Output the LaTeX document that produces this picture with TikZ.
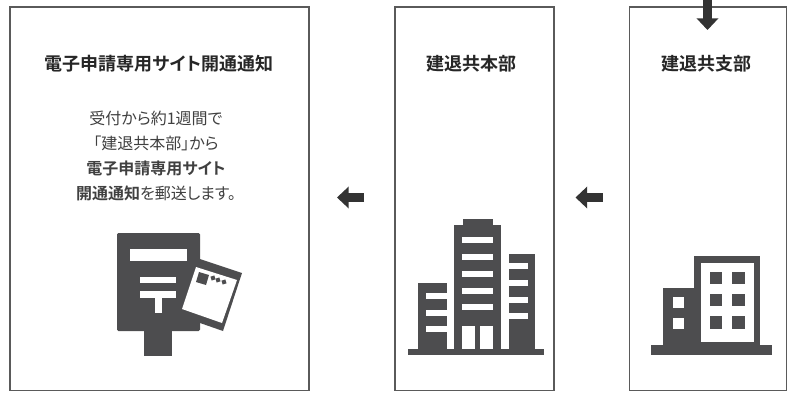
\documentclass[tikz,border=0pt]{standalone}
\usepackage{xcolor}
\usepackage{fontspec}
\setmainfont[RawFeature=+palt,BoldFont={Noto Sans CJK JP Bold}]{Noto Sans CJK JP}
\usetikzlibrary{arrows.meta}
\definecolor{icongray}{HTML}{4D4D4F}
\definecolor{framegray}{HTML}{5A5A5A}
\definecolor{arrowgray}{HTML}{333333}
\tikzset{
    panel/.style={draw=framegray, line width=0.8pt, minimum height=287.3pt, inner sep=0pt},
    heading/.style={font=\bfseries\fontsize{13.5pt}{16pt}\selectfont, text=black!85},
    bodytext/.style={font=\fontsize{12pt}{18.8pt}\selectfont, text=black!75, align=center},
    blockarrow/.style={draw=arrowgray, line width=6.4pt, -{Triangle[width=16pt, length=8.8pt]}},
    icon/.style={fill=icongray},
    hole/.style={fill=white}
}
\begin{document}
\begin{tikzpicture}[x=0.75pt, y=-0.75pt]
    \useasboundingbox (0,0) rectangle (791,396);
    % panels
    \node[panel, minimum width=224.25pt] (tsuchi) at (159.5,198.5) {};
    \node[panel, minimum width=119.25pt] (honbu) at (474.5,198.5) {};
    \node[panel, minimum width=118pt] (shibu) at (708,198.5) {};
    % texts
    \node[heading] (tsuchititle) at (159,64) {電子申請専用サイト開通通知};
    \node[heading] (honbutitle) at (471,64) {建退共本部};
    \node[heading] (shibutitle) at (706.5,64) {建退共支部};
    \node[bodytext] (tsuchibody) at (156,156) {受付から約1週間で\\「建退共本部」から\\\textbf{電子申請専用サイト}\\\textbf{開通通知}を郵送します。};
    % arrows
    \coordinate (intop) at (707.5,0);
    \coordinate (intip) at (707.5,30);
    \coordinate (shibuout) at (602.5,197.5);
    \coordinate (shibutip) at (575.5,197.5);
    \coordinate (honbuout) at (364,197.5);
    \coordinate (honbutip) at (337,197.5);
    \draw[blockarrow] (intop) -- (intip);
    \draw[blockarrow] (shibuout) -- (shibutip);
    \draw[blockarrow] (honbuout) -- (honbutip);
    % post box
    \fill[icon, rounded corners=1pt] (117,233) rectangle (200,331);
    \fill[icon] (144,331) rectangle (172,356);
    \fill[hole] (130,249) rectangle (186.5,261);
    \fill[hole] (140,277) rectangle (176,283);
    \fill[hole] (140,291) rectangle (176,298);
    \fill[hole] (155,298) rectangle (162,313);
    \fill[icon] (200,259) -- (242,273) -- (223,331) -- (200,323) -- cycle;
    \fill[hole] (196,267) -- (237,280) -- (222,323) -- (182,309) -- cycle;
    \fill[icon] (199,272) -- (209,275) -- (206,285) -- (196,282) -- cycle;
    \foreach \dx/\dy in {213/278, 218/280, 224/282}
        \fill[icon, rotate around={18:(\dx,\dy)}] (\dx-2,\dy-2) rectangle (\dx+2,\dy+2);
    % head office
    \fill[icon] (408,349) rectangle (544,355);
    \fill[icon] (454,225) rectangle (501,349);
    \fill[icon] (463,219) rectangle (493,225);
    \fill[icon] (417.7,283) rectangle (446.7,349);
    \fill[icon] (508.7,253.7) rectangle (535,349);
    \foreach \wy in {237.3, 254, 271, 287.5, 304}
        \fill[hole] (462,\wy) rectangle (493,\wy+6);
    \fill[hole] (462,326) rectangle (475.3,349);
    \fill[hole] (479.7,326) rectangle (493.3,349);
    \foreach \wy in {293, 309.7, 326.3}
        \fill[hole] (426,\wy) rectangle (446.7,\wy+6);
    \foreach \wy in {263.3, 280, 296.7, 313.3}
        \fill[hole] (508.7,\wy) rectangle (527.7,\wy+6);
    % branch office
    \fill[icon] (651.3,345.3) rectangle (771.7,355.3);
    \fill[icon] (694,256) rectangle (760.3,345.3);
    \fill[icon] (662.7,287.7) rectangle (694,345.3);
    \fill[hole] (700.7,263.3) rectangle (753.7,341.7);
    \foreach \wx in {709.7, 732}
        \foreach \wy in {271.7, 293.7, 316}
            \fill[icon] (\wx,\wy) rectangle (\wx+12.6,\wy+12.6);
    \foreach \wy in {296.7, 318.3}
        \fill[hole] (672.7,\wy) rectangle (684,\wy+11);
\end{tikzpicture}
\end{document}
